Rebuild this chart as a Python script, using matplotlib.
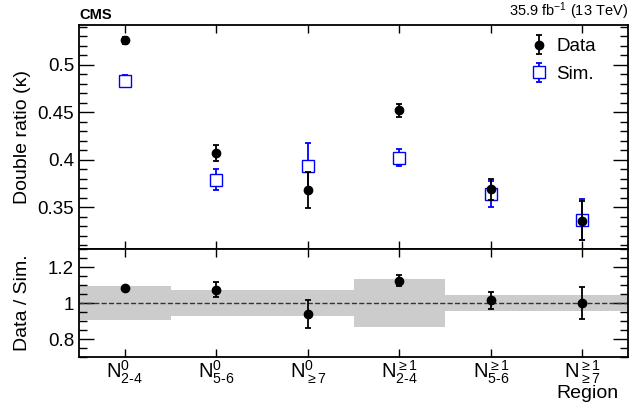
import matplotlib
matplotlib.use("Agg")
import matplotlib.pyplot as plt
import numpy as np
from matplotlib.ticker import MultipleLocator, FixedLocator

plt.rcParams["font.family"] = ["Liberation Sans", "DejaVu Sans"]
plt.rcParams["mathtext.fontset"] = "custom"
plt.rcParams["mathtext.rm"] = "Liberation Sans"
plt.rcParams["mathtext.it"] = "Liberation Sans"

# 数据
regions = [r"$\mathregular{N^{0}_{2\text{-}4}}$", r"$\mathregular{N^{0}_{5\text{-}6}}$",
           r"$\mathregular{N^{0}_{\geq 7}}$", r"$\mathregular{N^{\geq 1}_{2\text{-}4}}$",
           r"$\mathregular{N^{\geq 1}_{5\text{-}6}}$", r"$\mathregular{N^{\geq 1}_{\geq 7}}$"]
dataVal = [0.526, 0.407, 0.368, 0.452, 0.369, 0.336]
dataErr = [0.0035, 0.0086, 0.019, 0.0066, 0.011, 0.021]
simVal = [0.483, 0.379, 0.393, 0.402, 0.364, 0.337]
simErr = [0.006, 0.011, 0.025, 0.009, 0.014, 0.022]
ratioVal = [1.085, 1.074, 0.938, 1.125, 1.015, 1.0]
ratioErr = [0.012, 0.04, 0.077, 0.03, 0.047, 0.09]
bandErr = [0.092, 0.07, 0.07, 0.131, 0.043, 0.043]

x = np.arange(len(regions)) + 0.5

fig = plt.figure(figsize=(6.37, 4.08), dpi=100)
axTop = fig.add_axes([0.124, 0.3897, 0.862, 0.549])
axBot = fig.add_axes([0.124, 0.125, 0.862, 0.2647], sharex=axTop)

# 上图
axTop.errorbar(x, dataVal, yerr=dataErr, fmt="o", color="black", ms=6,
               capsize=2, elinewidth=1.3, capthick=1.3, label="Data", zorder=3)
axTop.errorbar(x, simVal, yerr=simErr, fmt="s", color="blue", mfc="white", mec="blue",
               ms=8, capsize=2, elinewidth=1.3, capthick=1.3, label="Sim.", zorder=2)
axTop.set_ylim(0.306, 0.542)
axTop.set_xlim(0, 6)
axTop.yaxis.set_major_locator(FixedLocator([0.35, 0.4, 0.45, 0.5]))
axTop.yaxis.set_minor_locator(MultipleLocator(0.01))
axTop.set_yticklabels(["0.35", "0.4", "0.45", "0.5"])
axTop.set_ylabel("Double ratio (κ)", fontsize=14)
axTop.legend(loc="upper right", bbox_to_anchor=(0.965, 1.0), frameon=False, fontsize=13.5,
             handletextpad=0.4, borderaxespad=0.3, handlelength=1.0, labelspacing=0.55)
axTop.text(0.0, 1.015, "CMS", transform=axTop.transAxes, fontsize=10.5,
           fontweight="bold", ha="left", va="bottom")
axTop.text(1.0, 1.012, r"35.9 fb$^{\mathregular{-1}}$ (13 TeV)", transform=axTop.transAxes,
           fontsize=10.5, ha="right", va="bottom")
plt.setp(axTop.get_xticklabels(), visible=False)

# 下图（比值）
edges = np.arange(len(regions) + 1)
for i in range(len(regions)):
    axBot.fill_between([edges[i], edges[i + 1]], 1 - bandErr[i], 1 + bandErr[i],
                       color="#cccccc", lw=0, zorder=1)
axBot.axhline(1.0, color="#333333", ls="--", lw=1, zorder=2)
axBot.errorbar(x, ratioVal, yerr=ratioErr, fmt="o", color="black", ms=6,
               capsize=2, elinewidth=1.3, capthick=1.3, zorder=3)
axBot.set_ylim(0.7, 1.3)
axBot.yaxis.set_major_locator(FixedLocator([0.8, 1.0, 1.2]))
axBot.yaxis.set_minor_locator(MultipleLocator(0.05))
axBot.set_yticklabels(["0.8", "1", "1.2"])
axBot.set_ylabel("Data / Sim.", fontsize=14)
axBot.yaxis.set_label_coords(-0.088, 0.5)
axTop.yaxis.set_label_coords(-0.088, 0.5)
axBot.set_xticks(x)
axBot.set_xticklabels(regions, fontsize=14)
axBot.set_xlabel("Region", fontsize=14, ha="right", va="top")
axBot.xaxis.set_label_coords(0.983, -0.26)

for ax in (axTop, axBot):
    ax.tick_params(axis="both", which="both", direction="in", top=True, right=True,
                   labelsize=13.5, width=1)
    ax.tick_params(axis="y", which="major", length=11)
    ax.tick_params(axis="y", which="minor", length=6)
    ax.tick_params(axis="x", which="major", length=6)
    for s in ax.spines.values():
        s.set_linewidth(1.3)
axBot.tick_params(axis="x", labelsize=14.5, pad=1, length=3)
axBot.tick_params(axis="x", which="major", top=True, length=6)

fig.savefig("out.png", dpi=100)
